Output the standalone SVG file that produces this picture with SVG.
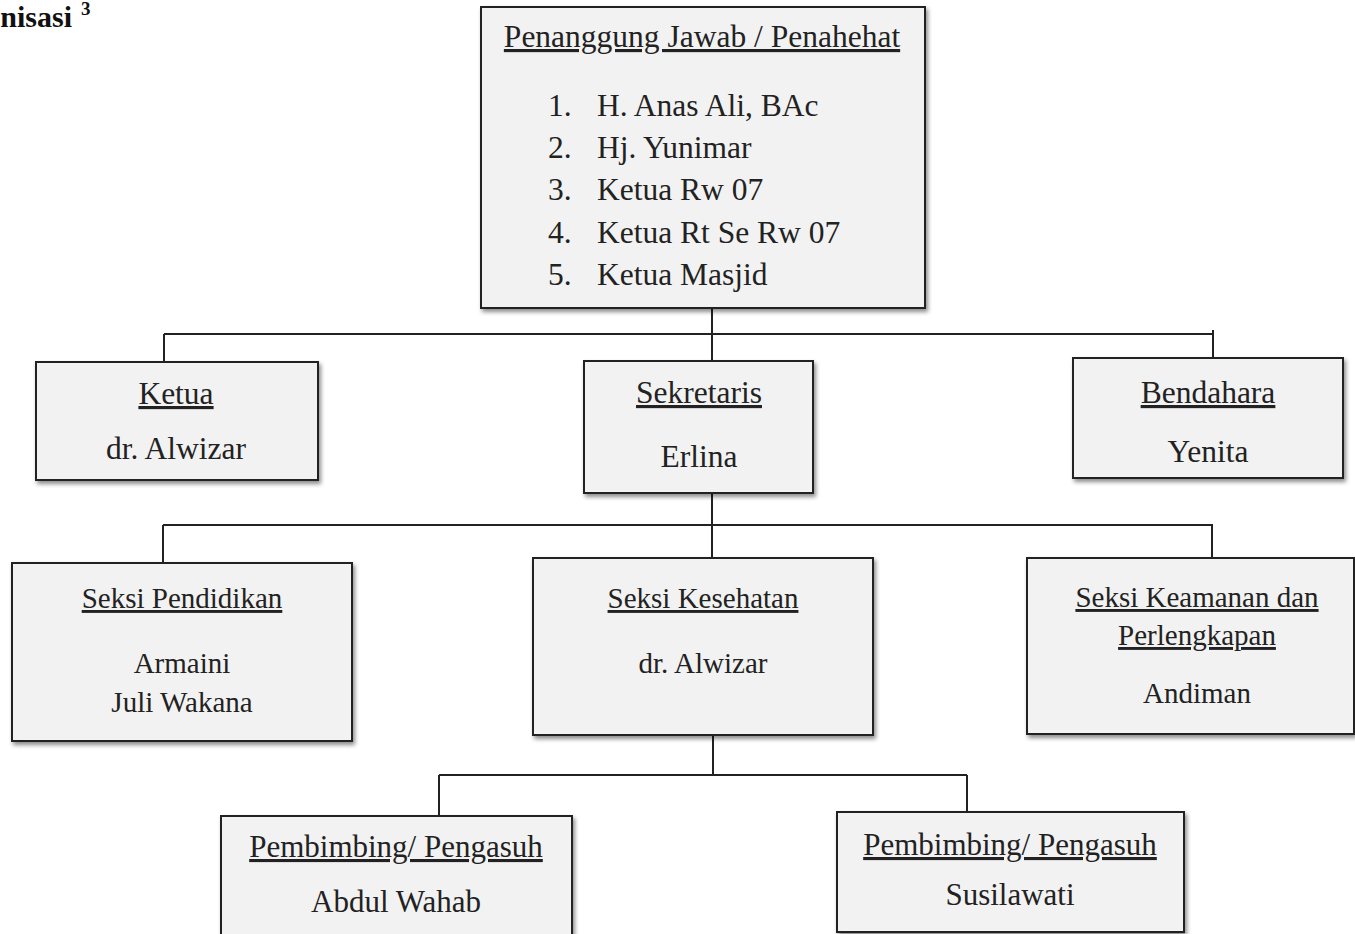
<svg xmlns="http://www.w3.org/2000/svg" width="1355" height="934" viewBox="0 0 1355 934">
<style>
.box{fill:#f2f2f2;stroke:#222;stroke-width:2;filter:url(#sh)}
.t{font-family:"Liberation Serif","Times New Roman",serif;fill:#222;text-anchor:middle}
.u{text-decoration:underline}
.l{font-family:"Liberation Serif","Times New Roman",serif;fill:#222;font-size:31.5px}
.c{fill:none;stroke:#222;stroke-width:2}
</style>
<defs>
<filter id="sh" x="-10%" y="-10%" width="120%" height="130%">
<feDropShadow dx="2" dy="3" stdDeviation="2" flood-color="#000" flood-opacity="0.45"/>
</filter>
</defs>
<rect width="1355" height="934" fill="#fff"/>
<g id="heading">
<text x="72" y="27" font-family="'Liberation Serif', serif" font-weight="bold" font-size="30" fill="#111" text-anchor="end">nisasi</text>
<text x="81" y="15" font-family="'Liberation Serif', serif" font-weight="bold" font-size="19" fill="#111">3</text>
</g>
<g id="connectors">
<path class="c" d="M712 308 V361"/>
<path class="c" d="M164 334 H1213"/>
<path class="c" d="M164 334 V362"/>
<path class="c" d="M1213 330 V358"/>
<path class="c" d="M712 493 V558"/>
<path class="c" d="M163 525 H1213"/>
<path class="c" d="M163 525 V563"/>
<path class="c" d="M1212 525 V558"/>
<path class="c" d="M713 735 V775"/>
<path class="c" d="M439 775 H967"/>
<path class="c" d="M439 775 V816"/>
<path class="c" d="M967 775 V812"/>
</g>
<g id="penanggung">
<rect class="box" x="481" y="7" width="444" height="301"/>
<text class="t u" x="702" y="47" font-size="31.5">Penanggung Jawab / Penahehat</text>
<text class="l" x="548" y="116">1.</text><text class="l" x="597" y="116">H. Anas Ali, BAc</text>
<text class="l" x="548" y="158">2.</text><text class="l" x="597" y="158">Hj. Yunimar</text>
<text class="l" x="548" y="200">3.</text><text class="l" x="597" y="200">Ketua Rw 07</text>
<text class="l" x="548" y="243">4.</text><text class="l" x="597" y="243">Ketua Rt Se Rw 07</text>
<text class="l" x="548" y="285">5.</text><text class="l" x="597" y="285">Ketua Masjid</text>
</g>
<g id="ketua">
<rect class="box" x="36" y="362" width="282" height="118"/>
<text class="t u" x="176" y="404" font-size="31.5">Ketua</text>
<text class="t" x="176" y="459" font-size="31.5">dr. Alwizar</text>
</g>
<g id="sekretaris">
<rect class="box" x="584" y="361" width="229" height="132"/>
<text class="t u" x="699" y="403" font-size="31.5">Sekretaris</text>
<text class="t" x="699" y="467" font-size="31.5">Erlina</text>
</g>
<g id="bendahara">
<rect class="box" x="1073" y="358" width="270" height="120"/>
<text class="t u" x="1208" y="403" font-size="31.5">Bendahara</text>
<text class="t" x="1208" y="462" font-size="31.5">Yenita</text>
</g>
<g id="pendidikan">
<rect class="box" x="12" y="563" width="340" height="178"/>
<text class="t u" x="182" y="608" font-size="29">Seksi Pendidikan</text>
<text class="t" x="182" y="673" font-size="29">Armaini</text>
<text class="t" x="182" y="712" font-size="29">Juli Wakana</text>
</g>
<g id="kesehatan">
<rect class="box" x="533" y="558" width="340" height="177"/>
<text class="t u" x="703" y="608" font-size="29">Seksi Kesehatan</text>
<text class="t" x="703" y="673" font-size="29">dr. Alwizar</text>
</g>
<g id="keamanan">
<rect class="box" x="1027" y="558" width="327" height="176"/>
<text class="t u" x="1197" y="607" font-size="29">Seksi Keamanan dan</text>
<text class="t u" x="1197" y="645" font-size="29">Perlengkapan</text>
<text class="t" x="1197" y="703" font-size="29">Andiman</text>
</g>
<g id="pembimbing1">
<rect class="box" x="221" y="816" width="351" height="140"/>
<text class="t u" x="396" y="857" font-size="31">Pembimbing/ Pengasuh</text>
<text class="t" x="396" y="912" font-size="31">Abdul Wahab</text>
</g>
<g id="pembimbing2">
<rect class="box" x="837" y="812" width="347" height="120"/>
<text class="t u" x="1010" y="855" font-size="31">Pembimbing/ Pengasuh</text>
<text class="t" x="1010" y="905" font-size="31">Susilawati</text>
</g>
</svg>
